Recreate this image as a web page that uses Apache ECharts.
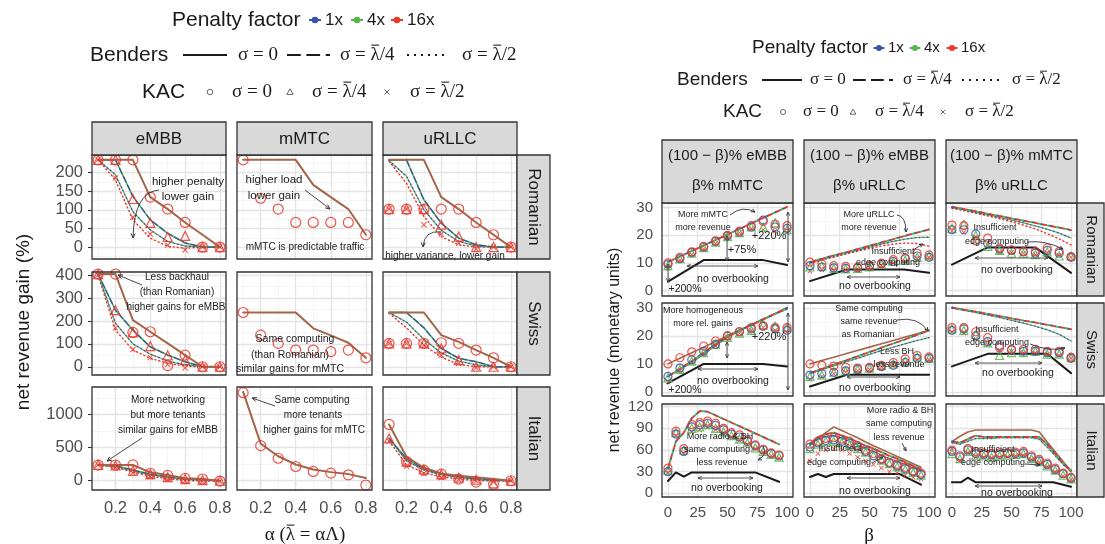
<!DOCTYPE html>
<html><head><meta charset="utf-8">
<script src="https://cdn.jsdelivr.net/npm/echarts@6/dist/echarts.min.js"></script>
<style>html,body{margin:0;padding:0;background:#fff}#c{width:1105px;height:544px}</style>
</head><body><div id="c"></div><script>
// ---------- x values ----------
const alpha = [0.1, 0.2, 0.3, 0.4, 0.5, 0.6, 0.7, 0.8];
const beta = [0, 10, 20, 30, 40, 50, 60, 70, 80, 90, 100];
const betaIt = [0, 6.7, 13.3, 20, 26.7, 33.3, 40, 46.7, 53.3, 60, 66.7, 73.3, 80, 86.7, 93.3];
const betaIt3 = [0, 6.7, 13.3, 20, 26.7, 33.3, 40, 46.7, 53.3, 60, 66.7, 73.3, 80, 86.7, 93.3, 100];

// ---------- tick labels ----------
const alphaTicks = [0.2, 0.4, 0.6, 0.8];
const betaTicks = [0, 25, 50, 75, 100];
const romTicks = [0, 50, 100, 150, 200];
const swiTicks = [0, 100, 200, 300, 400];
const itaTicks = [0, 500, 1000];
const revTicks = [0, 10, 20, 30];
const revItaTicks = [0, 30, 60, 90, 120];

// ---------- net revenue gain (%) : Romanian ----------
const romEmbbSolid = [234, 234, 234, 134, 102, 66, 33, 0];
const romEmbbMid = [234, 234, 136, 73, 37, 11, 0, 0];
const romEmbbDotB = [234, 194, 95, 46, 15, 3, 0, 0];
const romEmbbDotR = [234, 180, 73, 24, 2, -3, 0, 0];
const romEmbbCirc = [234, 234, 234, 134, 102, 66, 0, 0];
const romEmbbTri = [234, 234, 129, 65, 27, 30, 0, 0];
const romEmbbCross = [234, 185, 80, 35, 5, -8, 0, 0];
const romMmtcSolid = [234, 234, 234, 234, 167, 134, 102, 33];
const romMmtcCirc = [234, 131, 102, 66, 66, 66, 66, 33];
const romUrllcSolid = [234, 234, 234, 134, 102, 66, 33, 0];
const romUrllcMid = [234, 234, 127, 64, 24, 6, 0, 0];
const romUrllcDotB = [232, 190, 100, 45, 15, 3, 0, 0];
const romUrllcDotR = [230, 171, 82, 28, 6, 0, 0, 0];
const romUrllcCirc = [102, 102, 102, 102, 102, 66, 33, 0];
const romUrllcTri = [102, 102, 102, 60, 28, 0, 0, 0];
const romUrllcCross = [102, 102, 60, 35, 10, -5, 0, 0];

// ---------- Swiss ----------
const swiEmbbSolid = [405, 405, 204, 153, 102, 51, 0, 0];
const swiEmbbMid = [405, 247, 160, 87, 51, 22, 0, 0];
const swiEmbbDotB = [405, 190, 100, 55, 25, 8, 0, 0];
const swiEmbbDotR = [400, 160, 73, 37, 15, 3, 0, 0];
const swiEmbbCirc = [405, 405, 150, 153, 5, 51, 0, 0];
const swiEmbbTri = [405, 247, 150, 90, 50, 30, 0, 0];
const swiEmbbCross = [400, 170, 75, 40, 10, -5, 0, 0];
const swiMmtcSolid = [237, 237, 237, 237, 168, 137, 105, 39];
const swiMmtcCirc = [237, 138, 102, 73, 73, 66, 73, 39];
const swiUrllcSolid = [237, 237, 237, 138, 109, 73, 39, 0];
const swiUrllcMid = [237, 237, 170, 80, 37, 22, 0, 0];
const swiUrllcDotB = [237, 195, 120, 60, 25, 8, 0, 0];
const swiUrllcDotR = [234, 170, 95, 42, 10, 0, 0, 0];
const swiUrllcCirc = [102, 102, 102, 105, 102, 73, 39, 0];
const swiUrllcTri = [102, 102, 102, 80, 29, 0, 0, 0];
const swiUrllcCross = [102, 102, 95, 50, 15, -5, 0, 0];

// ---------- Italian ----------
const itaEmbbSolid = [240, 237, 237, 127, 86, 36, 26, 0];
const itaEmbbMid = [237, 225, 160, 100, 60, 30, 15, 0];
const itaEmbbDotB = [237, 215, 150, 90, 50, 20, 5, 0];
const itaEmbbDotR = [237, 200, 130, 70, 30, 5, -5, -5];
const itaEmbbCirc = [237, 237, 240, 113, 80, 36, 26, -5];
const itaEmbbTri = [240, 230, 150, 100, 55, 25, 10, 0];
const itaEmbbCross = [237, 200, 120, 60, 20, 0, -10, -10];
const itaMmtcSolid = [1343, 560, 370, 245, 170, 130, 100, 40];
const itaMmtcCirc = [1330, 530, 340, 215, 140, 115, 90, -65];
const itaUrllcSolid = [850, 362, 196, 111, 75, 51, 26, 0];
const itaUrllcMid = [640, 330, 180, 100, 60, 30, 10, 0];
const itaUrllcDotB = [640, 300, 160, 90, 50, 20, 5, 0];
const itaUrllcDotR = [600, 240, 120, 60, 25, 5, -5, 0];
const itaUrllcCirc = [850, 290, 160, 100, 25, -20, -55, 0];
const itaUrllcTri = [640, 290, 170, 95, 45, 15, -40, 0];
const itaUrllcCross = [600, 220, 110, 50, 15, -5, -20, 0];

// ---------- net revenue : Romanian row ----------
const r1c1Top = [10.3, 12.3, 14.3, 16.3, 18.3, 20.3, 22.3, 24.3, 26.3, 28.3, 30.3];
const r1c1Circ = [10, 12, 14, 16, 18, 20, 21.5, 23.5, 25, 24, 23.5];
const r1c1CircB = [9.5, 11.5, 13.8, 15.8, 17.8, 19.8, 21.2, 23, 25.5, 23, 22.5];
const r1c1Tri = [9, 11.5, 13.5, 15.5, 17.5, 19.5, 21, 23, 23, 24.5, 22];
const r1c1Cross = [8, 11, 13, 15, 17, 19.5, 21, 22.5, 22, 21.5, 21];
const r1c1NobX = [0, 30, 80, 100];
const r1c1Nob = [3.2, 11, 11, 9.2];

const r1c2Top = [10.3, 11.5, 12.7, 13.8, 15, 16.2, 17.4, 18.6, 19.8, 21, 22.1];
const r1c2DotB = [10, 11.2, 12.4, 13.5, 14.6, 15.7, 16.8, 17.8, 18.6, 19.2, 19.3];
const r1c2DotR = [9.8, 11, 12.1, 13.2, 14.2, 15.2, 16.1, 16.8, 17.2, 17, 16];
const r1c2Circ = [10.3, 9.6, 9, 8.7, 8.4, 9, 9.8, 11.2, 11.8, 13.5, 12.9];
const r1c2CircB = [9, 8.5, 8.2, 8, 8.2, 8.8, 9.8, 10.5, 11.5, 12.5, 12];
const r1c2Tri = [8.5, 8.8, 8, 7.8, 8, 8.5, 9.5, 10.5, 11, 12, 12.5];
const r1c2Cross = [7, 7.5, 7.5, 7.5, 7.8, 8.2, 9, 10, 10.5, 11.5, 12];
const r1c2NobX = [0, 31, 79, 100];
const r1c2Nob = [3.4, 7.6, 7.6, 6.4];

const r1c3Top = [30.3, 29.5, 28.7, 27.8, 27, 26.1, 25.3, 24.5, 23.6, 22.8, 21.9];
const r1c3DotB = [30, 29.2, 28.3, 27.4, 26.5, 25.5, 24.5, 23.4, 22.2, 20.8, 19];
const r1c3DotR = [29.8, 28.9, 28, 27, 26, 24.9, 23.7, 22.3, 20.6, 18.7, 16.5];
const r1c3Circ = [23.7, 23.5, 18, 19, 15.4, 14.7, 14.1, 14.1, 15.4, 14.1, 12.3];
const r1c3CircB = [22, 22, 20.5, 17, 15, 14.5, 14, 13.5, 14.5, 13.5, 12];
const r1c3Tri = [22.5, 24, 20, 16, 14.5, 13.5, 13.5, 13, 14, 12.5, 12.5];
const r1c3Cross = [21.5, 21, 19.5, 16.5, 14, 13.8, 13.5, 13, 13.5, 12.8, 12];
const r1c3NobX = [0, 30, 70, 100];
const r1c3Nob = [9.4, 15.6, 15.6, 6.4];

// ---------- net revenue : Swiss row ----------
const r2c1Red = [10, 12, 14, 16, 18, 20, 22, 24, 26, 28, 30.2];
const r2c1Top = [5.5, 8.2, 11, 14, 17, 20, 22, 24, 26, 28, 30];
const r2c1DotB = [5.5, 8, 10.5, 13.5, 16.5, 19.5, 21.8, 23.8, 25.8, 27.8, 29.6];
const r2c1Circ = [10, 12.2, 14.3, 16.4, 18.2, 20, 21.5, 23, 23.6, 23, 23];
const r2c1CircB = [5.5, 8.5, 11.5, 14.5, 17, 20, 21.5, 22.5, 23.5, 22.5, 22];
const r2c1Tri = [5, 8, 11, 14, 17, 19.5, 21, 22, 24, 23.5, 23];
const r2c1Cross = [3.5, 7.5, 10.5, 13.5, 16.5, 19.5, 21, 22, 23, 22, 21.5];
const r2c1NobX = [0, 30, 80, 100];
const r2c1Nob = [3.1, 10, 10, 9.1];

const r2c2Red = [10, 11.2, 12.4, 13.6, 14.8, 16, 17.2, 18.4, 19.6, 20.8, 22];
const r2c2Top = [6.7, 8.2, 9.7, 11.2, 12.7, 14.2, 15.8, 17.3, 18.8, 20.4, 22];
const r2c2DotB = [6.5, 7.9, 9.3, 10.7, 12, 13.4, 14.8, 16, 17.2, 18.4, 19.4];
const r2c2Circ = [10, 9.5, 9.2, 8.8, 8.5, 8.8, 9.5, 10.5, 11.8, 13, 12.5];
const r2c2CircB = [6, 6.5, 7, 7.5, 8, 8.5, 9, 9.5, 10.5, 12, 12];
const r2c2Tri = [5.5, 6, 7, 7.5, 8, 8.5, 9.5, 10, 11, 12.5, 12];
const r2c2Cross = [4.5, 5.5, 6.5, 7, 7.5, 8, 9, 9.8, 10.5, 11.5, 11.5];
const r2c2NobX = [0, 31, 100];
const r2c2Nob = [1.9, 6.1, 6.1];

const r2c3Top = [30.2, 29.4, 28.7, 27.9, 27.1, 26.3, 25.5, 24.8, 24, 23.2, 22.4];
const r2c3DotB = [30, 29.2, 28.4, 27.5, 26.6, 25.6, 24.6, 23.5, 22.2, 20.6, 18.2];
const r2c3Circ = [23, 23, 21.5, 19.4, 15.8, 15.2, 15.2, 15.2, 14.5, 14.5, 12.4];
const r2c3CircB = [22, 22.5, 20, 18, 16.5, 15, 14.5, 14.5, 14, 14, 12];
const r2c3Tri = [22.5, 22, 20.5, 17.5, 13, 14, 14, 14.5, 13.5, 13.5, 12.2];
const r2c3Cross = [21.5, 21, 19, 17, 15, 14.5, 14, 14, 13.5, 13, 12];
const r2c3NobX = [0, 30, 80, 100];
const r2c3Nob = [9.1, 13.6, 13.6, 6.7];

// ---------- net revenue : Italian row ----------
const r3c1Top = [34, 72, 84, 104, 114, 113, 108, 103, 98, 93, 88, 83, 78, 73, 68];
const r3c1Circ = [35, 86, 62, 95, 98, 100, 97, 90, 84, 81, 74, 67, 61, 56, 53];
const r3c1CircB = [30, 82, 58, 92, 95, 97, 94, 88, 82, 78, 72, 66, 60, 55, 52];
const r3c1Tri = [32, 84, 60, 90, 92, 95, 90, 85, 80, 75, 70, 63, 58, 54, 50];
const r3c1Cross = [28, 80, 55, 85, 88, 92, 88, 83, 78, 73, 68, 62, 57, 52, 49];
const r3c1NobX = [0, 6.7, 13.3, 20, 73.3, 93.3];
const r3c1Nob = [17, 29, 23, 29, 29, 16];

const r3c2Brown = [68, 76, 84, 92, 87, 82, 77, 71, 66, 61, 56, 51, 46, 41, 36];
const r3c2Top = [68, 78, 82, 84, 80, 76, 71, 66, 62, 57, 52, 48, 43, 38, 33];
const r3c2DotB = [66, 75, 79, 80, 76, 72, 67, 62, 58, 53, 48, 44, 40, 35, 31];
const r3c2Circ = [68, 72, 76, 77, 75, 72, 66, 60, 55, 48, 43, 40, 36, 31, 28];
const r3c2CircB = [64, 70, 73, 74, 72, 69, 64, 58, 52, 47, 42, 38, 34, 30, 26];
const r3c2Tri = [62, 68, 72, 72, 70, 67, 62, 57, 52, 46, 41, 37, 33, 29, 25];
const r3c2Cross = [45, 55, 60, 62, 60, 55, 50, 45, 40, 35, 30, 28, 25, 22, 20];
const r3c2NobX = [0, 6.7, 13.3, 20, 75, 93.3];
const r3c2Nob = [22.6, 26.8, 22.6, 26.8, 26.8, 12];

const r3c3Brown = [71.5, 79, 85, 87.7, 87.7, 87.7, 87.7, 87.7, 87.7, 87.7, 87.7, 85, 71, 57.5, 44, 30];
const r3c3Top = [72, 70, 75, 80, 78, 78, 78, 78, 78, 78, 78, 78, 68, 55, 42, 32];
const r3c3DotB = [70, 68, 72, 76, 76, 76, 77, 77, 77, 77, 77, 75, 64, 52, 40, 30];
const r3c3Circ = [60, 50, 62, 58, 56, 55, 56, 56, 57, 58, 52, 47, 42, 35, 28, 22];
const r3c3CircB = [58, 52, 60, 55, 54, 53, 54, 55, 55, 56, 50, 45, 40, 33, 27, 21];
const r3c3Tri = [55, 48, 58, 52, 52, 50, 52, 53, 54, 55, 48, 44, 38, 32, 25, 20];
const r3c3Cross = [62, 45, 56, 50, 50, 49, 50, 51, 52, 53, 47, 43, 37, 30, 24, 19];
const r3c3NobX = [0, 7.5, 13.3, 20, 85, 100];
const r3c3Nob = [15.2, 15.2, 21.6, 15.2, 15.2, 9.2];

// ---------- styling ----------
const BLUE = '#3a53a8', GREEN = '#55b64a', RED = '#e8382d', BROWN = '#a2664a', INK = '#1a1a1a';
const SANS = 'Liberation Sans, Arial, Helvetica, sans-serif';
const SERIF = 'Liberation Serif, DejaVu Serif, serif';
const CROSS = 'path://M0,1.2L1.2,0L5,3.8L8.8,0L10,1.2L6.2,5L10,8.8L8.8,10L5,6.2L1.2,10L0,8.8L3.8,5Z';

const leftCols = [[92, 226], [237, 372], [383, 517]];
const leftRows = [[155, 259], [272, 375], [387, 490]];
const rightCols = [[662, 793], [804, 935], [946, 1077]];
const rightRows = [[203, 296], [303, 396], [404, 497]];

const leftX = {min: 0.065, max: 0.835, major: alphaTicks, minor: [0.1, 0.3, 0.5, 0.7], fmt: v => v.toFixed(1)};
const rightX = {min: -5, max: 105, major: betaTicks, minor: [12.5, 37.5, 62.5, 87.5], fmt: v => String(v)};
const leftY = [
  {min: -32, max: 247, major: romTicks, minor: [-25, 25, 75, 125, 175, 225]},
  {min: -36, max: 414, major: swiTicks, minor: [50, 150, 250, 350]},
  {min: -140, max: 1416, major: itaTicks, minor: [250, 750, 1250]}
];
const rightY = [
  {min: -2, max: 31.7, major: revTicks, minor: [5, 15, 25]},
  {min: -1.5, max: 31.8, major: revTicks, minor: [5, 15, 25]},
  {min: -5.1, max: 123.7, major: revItaTicks, minor: [15, 45, 75, 105]}
];

const leftPanels = [
  {x: alpha, brown: romEmbbSolid, mid: romEmbbMid, dotB: romEmbbDotB, dotR: romEmbbDotR, circ: romEmbbCirc, tri: romEmbbTri, cross: romEmbbCross},
  {x: alpha, brown: romMmtcSolid, circ: romMmtcCirc},
  {x: alpha, brown: romUrllcSolid, mid: romUrllcMid, dotB: romUrllcDotB, dotR: romUrllcDotR, circ: romUrllcCirc, tri: romUrllcTri, cross: romUrllcCross},
  {x: alpha, brown: swiEmbbSolid, mid: swiEmbbMid, dotB: swiEmbbDotB, dotR: swiEmbbDotR, circ: swiEmbbCirc, tri: swiEmbbTri, cross: swiEmbbCross},
  {x: alpha, brown: swiMmtcSolid, circ: swiMmtcCirc},
  {x: alpha, brown: swiUrllcSolid, mid: swiUrllcMid, dotB: swiUrllcDotB, dotR: swiUrllcDotR, circ: swiUrllcCirc, tri: swiUrllcTri, cross: swiUrllcCross},
  {x: alpha, brown: itaEmbbSolid, mid: itaEmbbMid, dotB: itaEmbbDotB, dotR: itaEmbbDotR, circ: itaEmbbCirc, tri: itaEmbbTri, cross: itaEmbbCross},
  {x: alpha, brown: itaMmtcSolid, circ: itaMmtcCirc},
  {x: alpha, brown: itaUrllcSolid, mid: itaUrllcMid, dotB: itaUrllcDotB, dotR: itaUrllcDotR, circ: itaUrllcCirc, tri: itaUrllcTri, cross: itaUrllcCross}
];
const rightPanels = [
  {x: beta, top: r1c1Top, circ: r1c1Circ, circB: r1c1CircB, tri: r1c1Tri, cross: r1c1Cross, nobX: r1c1NobX, nob: r1c1Nob},
  {x: beta, top: r1c2Top, dotB: r1c2DotB, dotR: r1c2DotR, circ: r1c2Circ, circB: r1c2CircB, tri: r1c2Tri, cross: r1c2Cross, nobX: r1c2NobX, nob: r1c2Nob},
  {x: beta, top: r1c3Top, dotB: r1c3DotB, dotR: r1c3DotR, circ: r1c3Circ, circB: r1c3CircB, tri: r1c3Tri, cross: r1c3Cross, nobX: r1c3NobX, nob: r1c3Nob},
  {x: beta, brown: r2c1Red, top: r2c1Top, dotB: r2c1DotB, circ: r2c1Circ, circB: r2c1CircB, tri: r2c1Tri, cross: r2c1Cross, nobX: r2c1NobX, nob: r2c1Nob},
  {x: beta, brown: r2c2Red, top: r2c2Top, dotB: r2c2DotB, circ: r2c2Circ, circB: r2c2CircB, tri: r2c2Tri, cross: r2c2Cross, nobX: r2c2NobX, nob: r2c2Nob},
  {x: beta, top: r2c3Top, dotB: r2c3DotB, circ: r2c3Circ, circB: r2c3CircB, tri: r2c3Tri, cross: r2c3Cross, nobX: r2c3NobX, nob: r2c3Nob},
  {x: betaIt, top: r3c1Top, circ: r3c1Circ, circB: r3c1CircB, tri: r3c1Tri, cross: r3c1Cross, nobX: r3c1NobX, nob: r3c1Nob},
  {x: betaIt, brown: r3c2Brown, top: r3c2Top, dotB: r3c2DotB, circ: r3c2Circ, circB: r3c2CircB, tri: r3c2Tri, cross: r3c2Cross, nobX: r3c2NobX, nob: r3c2Nob},
  {x: betaIt3, brown: r3c3Brown, top: r3c3Top, dotB: r3c3DotB, circ: r3c3Circ, circB: r3c3CircB, tri: r3c3Tri, cross: r3c3Cross, nobX: r3c3NobX, nob: r3c3Nob}
];

const grid = [], xAxis = [], yAxis = [], series = [], G = [];

function addPanel(box, xs, ys, showX, showY, fs, xMargin) {
  const i = grid.length;
  grid.push({left: box[0], top: box[1], width: box[2] - box[0], height: box[3] - box[1],
    containLabel: false, outerBoundsMode: 'none', show: false});
  xAxis.push({gridIndex: i, type: 'value', min: xs.min, max: xs.max,
    axisLine: {show: false}, splitLine: {show: false},
    axisTick: {show: showX, customValues: xs.major, length: 4, lineStyle: {color: '#333', width: 1.1}},
    axisLabel: {show: showX, customValues: xs.major, color: '#4d4d4d', fontSize: fs, margin: xMargin,
      fontFamily: SANS, formatter: xs.fmt}});
  yAxis.push({gridIndex: i, type: 'value', min: ys.min, max: ys.max,
    axisLine: {show: false}, splitLine: {show: false},
    axisTick: {show: showY, customValues: ys.major, length: 4, lineStyle: {color: '#333', width: 1.1}},
    axisLabel: {show: showY, customValues: ys.major, color: '#4d4d4d', fontSize: fs, margin: 9,
      fontFamily: SANS, formatter: v => String(v)}});
  const ml = [];
  const minorStyle = {color: '#f1f1f1', width: 0.8, type: 'solid'};
  const majorStyle = {color: '#e4e4e4', width: 1.3, type: 'solid'};
  xs.minor.forEach(v => ml.push({xAxis: v, lineStyle: minorStyle}));
  ys.minor.forEach(v => ml.push({yAxis: v, lineStyle: minorStyle}));
  xs.major.forEach(v => ml.push({xAxis: v, lineStyle: majorStyle}));
  ys.major.forEach(v => ml.push({yAxis: v, lineStyle: majorStyle}));
  series.push({type: 'line', xAxisIndex: i, yAxisIndex: i, data: [[xs.min, ys.min]], symbol: 'none',
    lineStyle: {opacity: 0}, silent: true, z: 1,
    markLine: {z: 1, silent: true, symbol: ['none', 'none'], label: {show: false},
      emphasis: {disabled: true}, animation: false, data: ml}});
  // panel border on top
  G.push({type: 'rect', z: 90, silent: true, shape: {x: box[0], y: box[1], width: box[2] - box[0], height: box[3] - box[1]},
    style: {fill: null, stroke: '#333', lineWidth: 1.3}});
  return i;
}

function pts(xs, ys) { return xs.map((x, k) => [x, ys[k]]); }
function lineS(i, xs, ys, color, width, dash, z, offset) {
  series.push({type: 'line', xAxisIndex: i, yAxisIndex: i, data: pts(xs, ys), symbol: 'none', silent: true, z: z,
    lineStyle: {color: color, width: width, type: dash || 'solid', dashOffset: offset || 0, cap: 'round'}});
}
function ptS(i, xs, ys, symbol, color, size, filled) {
  series.push({type: 'scatter', xAxisIndex: i, yAxisIndex: i, data: pts(xs, ys), symbol: symbol, symbolSize: size,
    silent: true, z: 6,
    itemStyle: filled ? {color: color, opacity: 0.85} : {color: 'rgba(255,255,255,0)', borderColor: color, borderWidth: 1.2, opacity: 0.85}});
}

function addMarks(i, p, left) {
  const x = p.x;
  if (p.dotR) lineS(i, x, p.dotR, RED, 1.4, [1.2, 2.8], 3);
  if (p.dotB) { lineS(i, x, p.dotB, BLUE, 1.4, [1.2, 2.8], 3); lineS(i, x, p.dotB, GREEN, 1.2, [1.2, 2.8], 3, 2); }
  if (p.mid) { lineS(i, x, p.mid, GREEN, 1.6, 'solid', 4); lineS(i, x, p.mid, BLUE, 1.3, [6, 3], 4); }
  if (p.brown) lineS(i, x, p.brown, BROWN, left ? 2 : 1.6, 'solid', 4);
  if (p.top) {
    lineS(i, x, p.top, BLUE, 1.8, [3, 6], 4, 0);
    lineS(i, x, p.top, GREEN, 1.8, [3, 6], 4, 3);
    lineS(i, x, p.top, RED, 1.8, [3, 6], 4, 6);
  }
  if (p.nob) lineS(i, p.nobX, p.nob, INK, 2, 'solid', 5);
  const cs = left ? 10 : 8;
  if (p.cross) ptS(i, x, p.cross, CROSS, RED, left ? 6 : 5, true);
  if (p.tri) ptS(i, x, p.tri, 'triangle', left ? RED : GREEN, left ? 9 : 8);
  if (p.circB) ptS(i, x, p.circB, 'circle', BLUE, cs);
  if (p.circ) ptS(i, x, p.circ, 'circle', RED, cs);
}

for (let r = 0; r < 3; r++) for (let c = 0; c < 3; c++) {
  const box = [leftCols[c][0], leftRows[r][0], leftCols[c][1], leftRows[r][1]];
  const i = addPanel(box, leftX, leftY[r], r === 2, c === 0, 16.5, 10);
  addMarks(i, leftPanels[r * 3 + c], true);
}
for (let r = 0; r < 3; r++) for (let c = 0; c < 3; c++) {
  const box = [rightCols[c][0], rightRows[r][0], rightCols[c][1], rightRows[r][1]];
  const i = addPanel(box, rightX, rightY[r], r === 2, c === 0, 15, 8);
  addMarks(i, rightPanels[r * 3 + c], false);
}

// ---------- graphic helpers ----------
const measureCtx = document.createElement('canvas').getContext('2d');
function textWidth(s, size, ff) { measureCtx.font = size + 'px ' + ff; return measureCtx.measureText(s).width; }

function txt(x, y, s, size, o) {
  o = o || {};
  G.push({type: 'text', x: x, y: y, z: 100, silent: true, rotation: o.rot || 0,
    style: {text: s, fontSize: size, fontFamily: o.ff || SANS, fill: o.fill || INK,
      align: o.align || 'center', verticalAlign: 'middle'}});
}
// text of the form pre + λ + post, with a bar drawn over the λ
function barTxt(x, y, pre, post, size, align) {
  const w0 = textWidth(pre, size, SERIF), wl = textWidth('\u03bb', size, SERIF);
  const total = textWidth(pre + '\u03bb' + post, size, SERIF);
  const left = align === 'center' ? x - total / 2 : x;
  txt(left, y, pre + '\u03bb' + post, size, {align: 'left', ff: SERIF});
  seg(left + w0 + wl * 0.1, y - size * 0.52, left + w0 + wl * 0.95, y - size * 0.52, INK, Math.max(0.9, size / 18));
}
function rect(x0, y0, x1, y1) {
  G.push({type: 'rect', z: 95, silent: true, shape: {x: x0, y: y0, width: x1 - x0, height: y1 - y0},
    style: {fill: '#d9d9d9', stroke: '#333', lineWidth: 1.3}});
}
function seg(x1, y1, x2, y2, color, w, dash) {
  G.push({type: 'line', z: 100, silent: true, shape: {x1: x1, y1: y1, x2: x2, y2: y2},
    style: {stroke: color, lineWidth: w, lineDash: dash || null, lineCap: 'butt'}});
}
function head(x, y, a, col, s) {
  const p1 = [x - s * Math.cos(a - 0.42), y - s * Math.sin(a - 0.42)];
  const p2 = [x - s * Math.cos(a + 0.42), y - s * Math.sin(a + 0.42)];
  G.push({type: 'polyline', z: 100, silent: true, shape: {points: [p1, [x, y], p2]},
    style: {stroke: col, lineWidth: 1, fill: null}});
}
function arrow(x1, y1, x2, y2, o) {
  o = o || {};
  const col = o.color || '#333', w = o.width || 0.9, hs = o.head || 5;
  let aEnd, aStart;
  if (o.cx !== undefined) {
    G.push({type: 'bezierCurve', z: 100, silent: true,
      shape: {x1: x1, y1: y1, x2: x2, y2: y2, cpx1: o.cx, cpy1: o.cy},
      style: {stroke: col, lineWidth: w, fill: null}});
    aEnd = Math.atan2(y2 - o.cy, x2 - o.cx);
    aStart = Math.atan2(y1 - o.cy, x1 - o.cx);
  } else {
    seg(x1, y1, x2, y2, col, w);
    aEnd = Math.atan2(y2 - y1, x2 - x1);
    aStart = aEnd + Math.PI;
  }
  head(x2, y2, aEnd, col, hs);
  if (o.double) head(x1, y1, aStart, col, hs);
}
function dot(x, y, r, col) {
  G.push({type: 'circle', z: 100, silent: true, shape: {cx: x, cy: y, r: r}, style: {fill: col}});
}
function ring(x, y, r, col) {
  G.push({type: 'circle', z: 100, silent: true, shape: {cx: x, cy: y, r: r}, style: {fill: null, stroke: col, lineWidth: 0.9}});
}
function tri(x, y, s, col) {
  G.push({type: 'polygon', z: 100, silent: true, shape: {points: [[x, y - s], [x + s, y + s * 0.75], [x - s, y + s * 0.75]]},
    style: {fill: null, stroke: col, lineWidth: 0.9}});
}
function xmark(x, y, s, col) { seg(x - s, y - s, x + s, y + s, col, 0.9); seg(x - s, y + s, x + s, y - s, col, 0.9); }

// ---------- strips ----------
const leftStrip = ['eMBB', 'mMTC', 'uRLLC'];
const rowStrip = ['Romanian', 'Swiss', 'Italian'];
leftCols.forEach((c, k) => { rect(c[0], 122, c[1], 155); txt((c[0] + c[1]) / 2, 139, leftStrip[k], 17); });
leftRows.forEach((r, k) => { rect(517, r[0], 550, r[1]); txt(534, (r[0] + r[1]) / 2, rowStrip[k], 17, {rot: -Math.PI / 2}); });
const rightStrip = [['(100 \u2212 \u03b2)% eMBB', '\u03b2% mMTC'], ['(100 \u2212 \u03b2)% eMBB', '\u03b2% uRLLC'], ['(100 \u2212 \u03b2)% mMTC', '\u03b2% uRLLC']];
rightCols.forEach((c, k) => {
  rect(c[0], 140, c[1], 203);
  txt((c[0] + c[1]) / 2, 156, rightStrip[k][0], 15);
  txt((c[0] + c[1]) / 2, 186, rightStrip[k][1], 15);
});
rightRows.forEach((r, k) => { rect(1077, r[0], 1104, r[1]); txt(1091, (r[0] + r[1]) / 2, rowStrip[k], 15, {rot: -Math.PI / 2}); });

// ---------- axis titles ----------
txt(24, 322, 'net revenue gain (%)', 19, {rot: Math.PI / 2});
txt(615, 350, 'net revenue (monetary units)', 16, {rot: Math.PI / 2});
barTxt(305, 535, '\u03b1 (', ' = \u03b1\u039b)', 19, 'center');
txt(869, 536, '\u03b2', 19, {ff: SERIF});

// ---------- legends ----------
function legend(o) {
  const k = o.k;
  txt(o.penX, o.y1, 'Penalty factor', o.fs, {align: 'left'});
  [[o.m1, BLUE, '1x'], [o.m2, GREEN, '4x'], [o.m3, RED, '16x']].forEach(m => {
    seg(m[0] - 6 * k, o.y1, m[0] + 6 * k, o.y1, m[1], 2);
    dot(m[0], o.y1, 3.3 * k, m[1]);
    txt(m[0] + 10 * k, o.y1, m[2], o.fsm, {align: 'left'});
  });
  txt(o.bX, o.y2, 'Benders', o.fs, {align: 'left'});
  seg(o.l1[0], o.y2, o.l1[1], o.y2, INK, 2);
  txt(o.t1, o.y2, '\u03c3 = 0', o.fss, {align: 'left', ff: SERIF});
  const d0 = o.l2[0], dw = (o.l2[1] - o.l2[0]);
  seg(d0, o.y2, d0 + dw * 0.32, o.y2, INK, 2);
  seg(d0 + dw * 0.45, o.y2, d0 + dw * 0.77, o.y2, INK, 2);
  seg(d0 + dw * 0.9, o.y2, d0 + dw, o.y2, INK, 2);
  barTxt(o.t2, o.y2, '\u03c3 = ', '/4', o.fss, 'left');
  seg(o.l3[0], o.y2, o.l3[1], o.y2, INK, 2, [2, 5]);
  barTxt(o.t3, o.y2, '\u03c3 = ', '/2', o.fss, 'left');
  txt(o.kX, o.y3, 'KAC', o.fs, {align: 'left'});
  ring(o.k1, o.y3, 2.8 * k, '#555');
  txt(o.kt1, o.y3, '\u03c3 = 0', o.fss, {align: 'left', ff: SERIF});
  tri(o.k2, o.y3, 3.2 * k, '#555');
  barTxt(o.kt2, o.y3, '\u03c3 = ', '/4', o.fss, 'left');
  xmark(o.k3, o.y3, 2.5 * k, '#555');
  barTxt(o.kt3, o.y3, '\u03c3 = ', '/2', o.fss, 'left');
}
legend({k: 1, fs: 21, fsm: 17, fss: 19, y1: 20, y2: 55, y3: 92, penX: 172, m1: 315, m2: 357, m3: 397,
  bX: 90, l1: [183, 227], t1: 238, l2: [287, 330], t2: 340, l3: [407, 447], t3: 462,
  kX: 142, k1: 210, kt1: 232, k2: 290, kt2: 312, k3: 387, kt3: 410});
legend({k: 0.9, fs: 19, fsm: 15, fss: 17, y1: 48, y2: 80, y3: 112, penX: 752, m1: 879, m2: 915, m3: 952,
  bX: 677, l1: [762, 802], t1: 810, l2: [853, 893], t2: 903, l3: [962, 1002], t3: 1012,
  kX: 723, k1: 783, kt1: 803, k2: 853, kt2: 875, k3: 943, kt3: 965});

// ---------- annotations : gain panels ----------
const N = '#222';
txt(188, 182, 'higher penalty', 11.5, {fill: N}); txt(188, 197, 'lower gain', 11.5, {fill: N});
arrow(159, 190, 133, 238, {cx: 134, cy: 192});
txt(274, 180, 'higher load', 11.5, {fill: N}); txt(274, 196, 'lower gain', 11.5, {fill: N});
arrow(305, 190, 330, 209);
txt(305, 247, 'mMTC is predictable traffic', 10, {fill: N});
txt(445, 256, 'higher variance, lower gain', 10, {fill: N});
arrow(441, 232, 423, 247, {cx: 424, cy: 230});
txt(177, 277, 'Less backhaul', 10, {fill: N}); txt(177, 292, '(than Romanian)', 10, {fill: N}); txt(176, 307, 'higher gains for eMBB', 10, {fill: N});
arrow(142, 285, 118, 275);
txt(295, 339, 'Same computing', 10.5, {fill: N}); txt(290, 355, '(than Romanian)', 10.5, {fill: N}); txt(290, 369, 'similar gains for mMTC', 10.5, {fill: N});
txt(168, 400, 'More networking', 10, {fill: N}); txt(168, 415, 'but more tenants', 10, {fill: N}); txt(168, 430, 'similar gains for eMBB', 10, {fill: N});
arrow(142, 438, 107, 461);
txt(312, 400, 'Same computing', 10, {fill: N}); txt(313, 415, 'more tenants', 10, {fill: N}); txt(314, 430, 'higher gains for mMTC', 10, {fill: N});
arrow(275, 406, 252, 398);

// ---------- annotations : revenue panels ----------
const A = {color: '#444', double: true, head: 4};
txt(703, 215, 'More mMTC', 9, {fill: N}); txt(703, 228, 'more revenue', 9, {fill: N});
arrow(730, 215, 755, 212, {cx: 742, cy: 205, head: 4});
txt(742, 250, '+75%', 11, {fill: N}); arrow(727, 236, 727, 261, A);
txt(769, 236, '+220%', 11, {fill: N}); arrow(788, 212, 788, 262, A);
txt(733, 279, 'no overbooking', 10.5, {fill: N}); arrow(687, 266, 758, 266, A);
txt(685, 289, '+200%', 10.5, {fill: N}); arrow(668, 264, 668, 282, A);

txt(869, 215, 'More uRLLC', 9, {fill: N}); txt(869, 228, 'more revenue', 9, {fill: N});
arrow(897, 215, 906, 232, {cx: 906, cy: 216, head: 4});
txt(893, 252, 'Insufficient', 9, {fill: N}); txt(888, 263, 'edge computing', 9, {fill: N});
arrow(913, 250, 923, 244, {head: 4});
txt(875, 286, 'no overbooking', 10.5, {fill: N}); arrow(847, 277, 900, 277, A);

txt(995, 228, 'Insufficient', 9, {fill: N}); txt(997, 242, 'edge computing', 9, {fill: N});
arrow(1027, 242, 1063, 249, {cx: 1045, cy: 240, head: 4});
txt(1017, 270, 'no overbooking', 10.5, {fill: N}); arrow(975, 258, 1048, 258, A);

txt(703, 311, 'More homogeneous', 9, {fill: N}); txt(703, 324, 'more rel. gains', 9, {fill: N});
arrow(727, 342, 727, 358, A);
txt(769, 337, '+220%', 11, {fill: N}); arrow(788, 313, 788, 390, A);
txt(733, 381, 'no overbooking', 10.5, {fill: N}); arrow(698, 369, 758, 369, A);
txt(685, 390, '+200%', 10.5, {fill: N});

txt(869, 309, 'Same computing', 9, {fill: N}); txt(869, 322, 'same revenue', 9, {fill: N}); txt(868, 335, 'as Romanian', 9, {fill: N});
arrow(897, 320, 928, 331, {cx: 918, cy: 316, head: 4});
txt(897, 352, 'Less BH', 9, {fill: N}); txt(899, 365, 'less revenue', 9, {fill: N});
txt(875, 388, 'no overbooking', 10.5, {fill: N}); arrow(847, 377, 900, 377, A);

txt(997, 330, 'Insufficient', 9, {fill: N}); txt(997, 343, 'edge computing', 9, {fill: N});
arrow(1030, 344, 1065, 348, {cx: 1050, cy: 352, head: 4});
txt(1018, 373, 'no overbooking', 10.5, {fill: N}); arrow(975, 363, 1042, 363, A);

txt(720, 437, 'More radio & BH', 9, {fill: N}); txt(717, 450, 'same computing', 9, {fill: N}); txt(722, 463, 'less revenue', 9, {fill: N});
arrow(763, 446, 758, 460, {cx: 768, cy: 455, head: 4});
txt(727, 488, 'no overbooking', 10.5, {fill: N}); arrow(698, 478, 753, 478, A);

txt(900, 411, 'More radio & BH', 9, {fill: N}); txt(899, 424, 'same computing', 9, {fill: N}); txt(899, 438, 'less revenue', 9, {fill: N});
arrow(902, 443, 906, 451, {head: 4});
txt(840, 449, 'Insufficient', 9, {fill: N}); txt(839, 463, 'edge computing', 9, {fill: N});
arrow(872, 463, 883, 457, {head: 4});
txt(875, 491, 'no overbooking', 10.5, {fill: N}); arrow(847, 478, 900, 478, A);

txt(993, 450, 'Insufficient', 9, {fill: N}); txt(993, 463, 'edge computing', 9, {fill: N});
arrow(1025, 464, 1040, 465, {head: 4});
txt(1017, 493, 'no overbooking', 10.5, {fill: N}); arrow(975, 486, 1042, 486, A);

const chart = echarts.init(document.getElementById('c'), null, {renderer: 'canvas', width: 1105, height: 544});
chart.setOption({
  animation: false,
  backgroundColor: '#ffffff',
  grid: grid, xAxis: xAxis, yAxis: yAxis, series: series, graphic: G
});
</script></body></html>
